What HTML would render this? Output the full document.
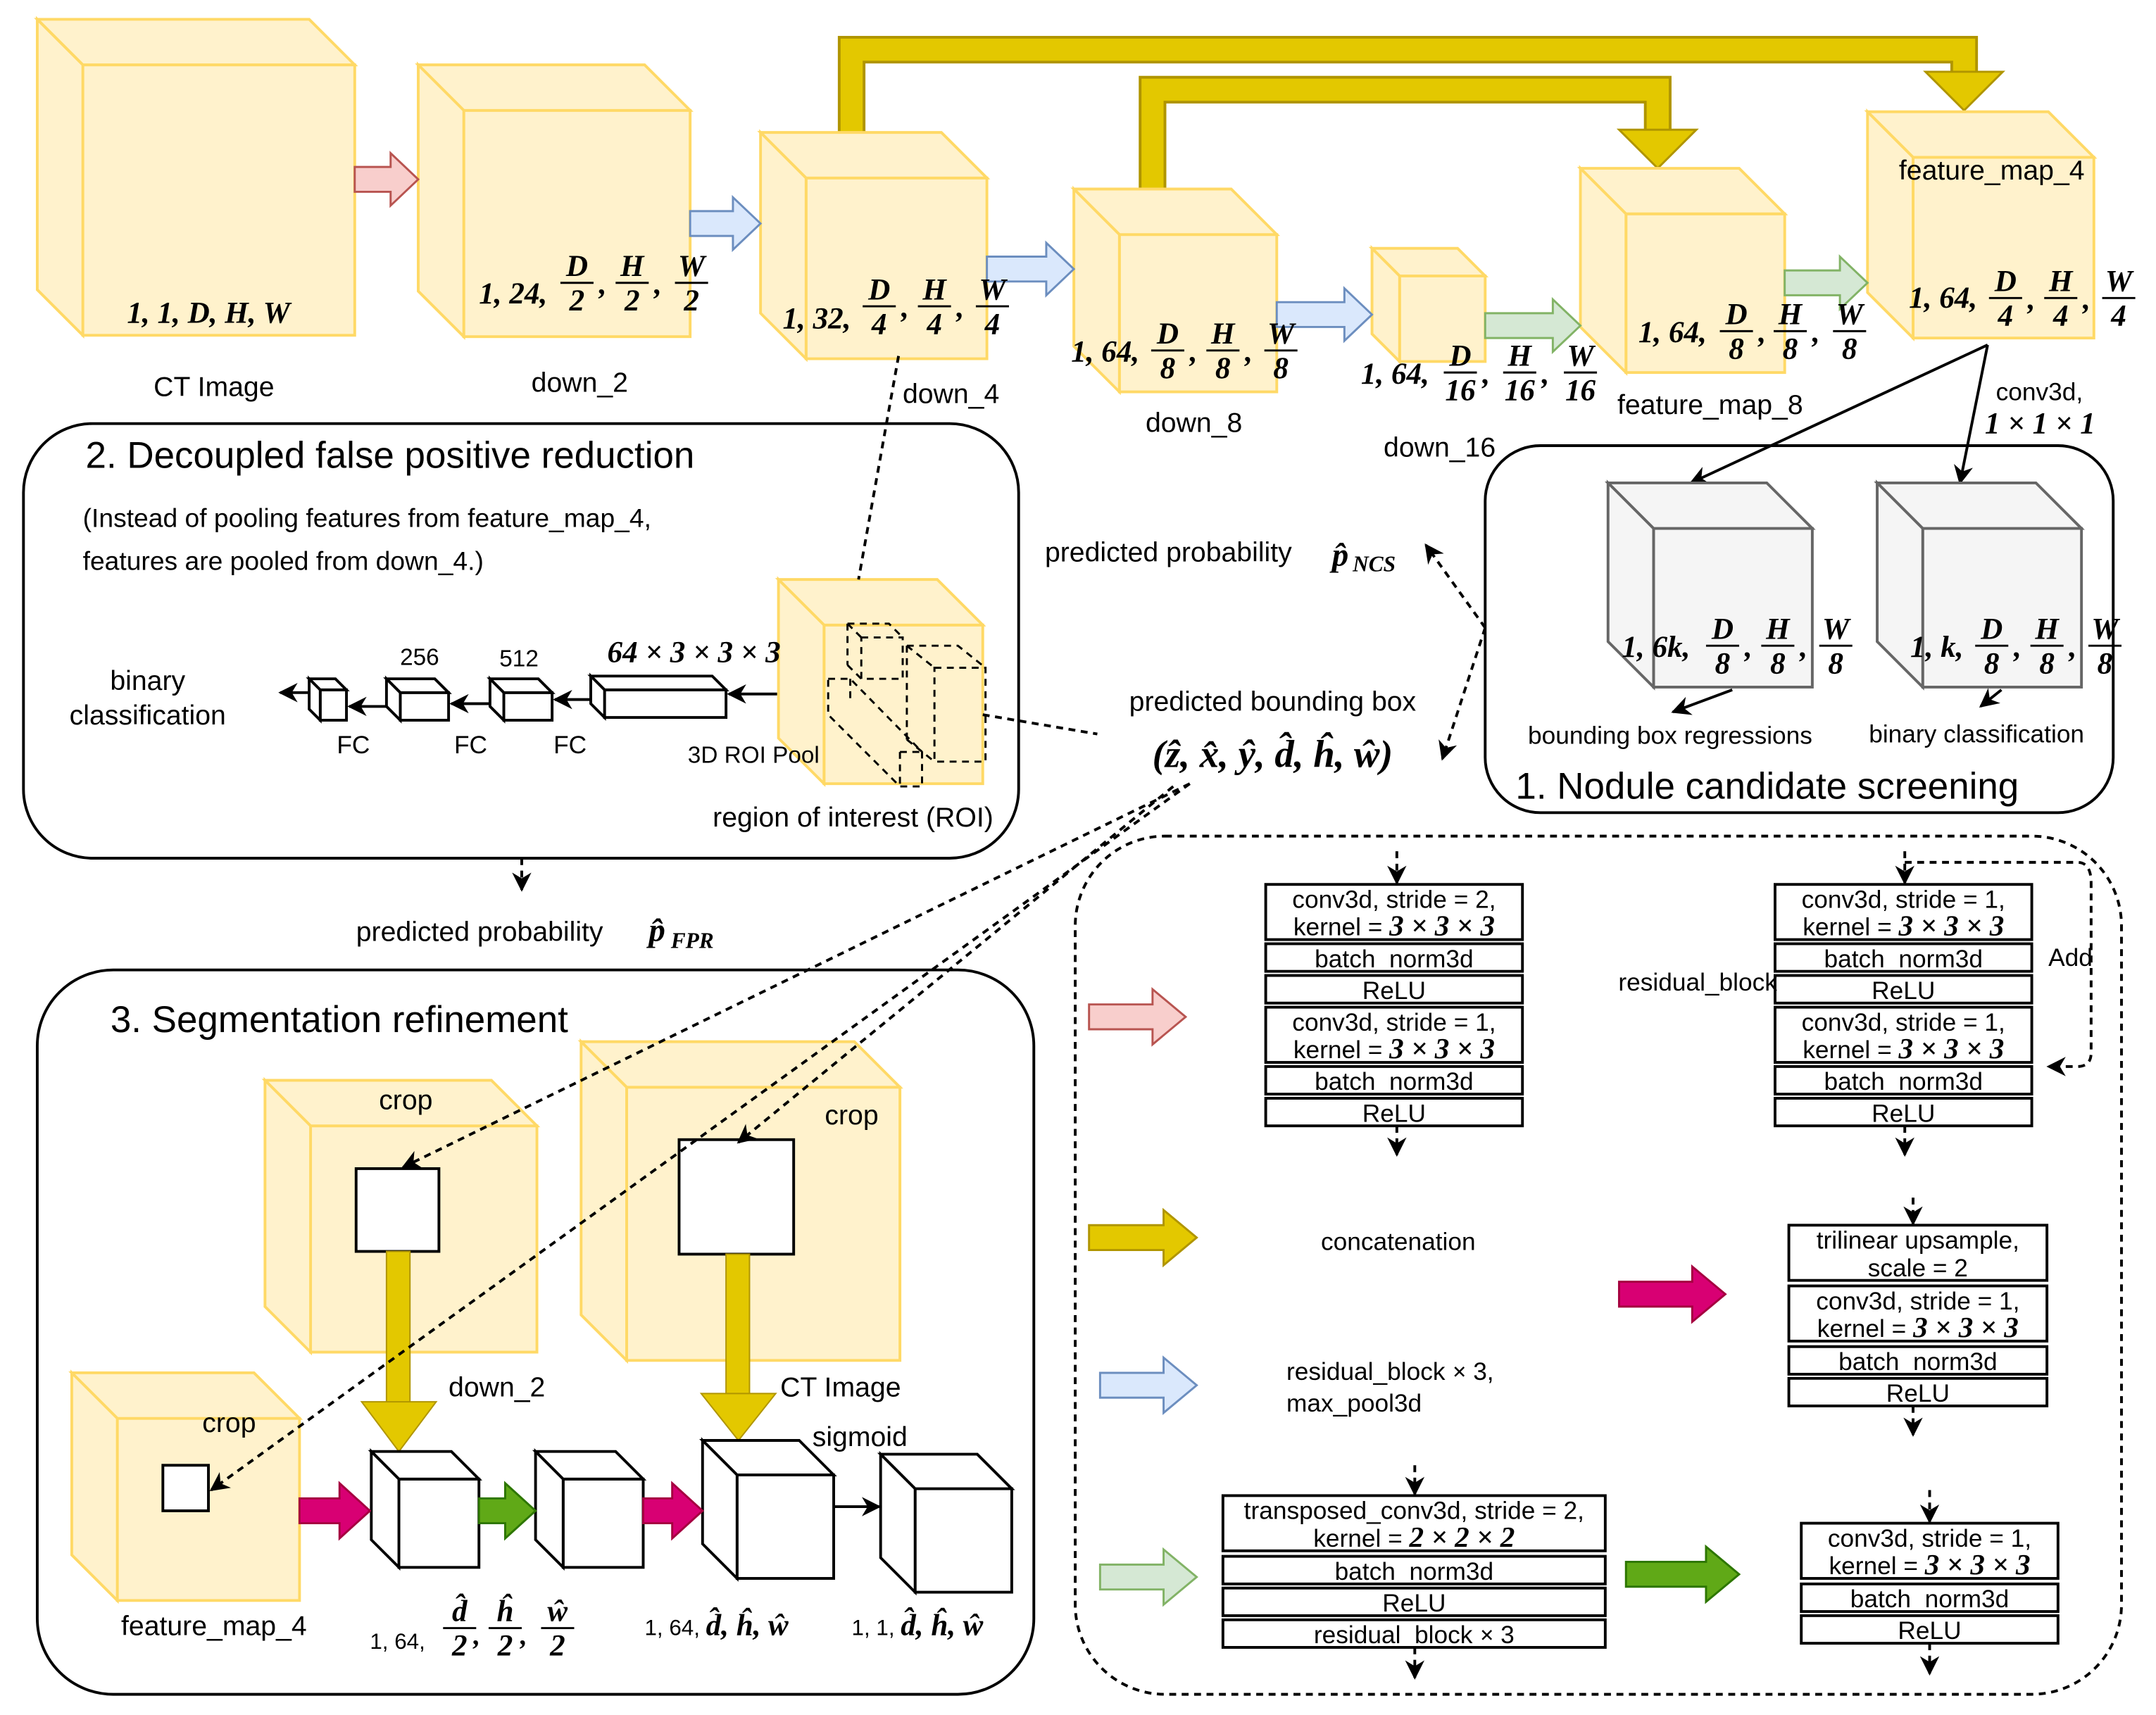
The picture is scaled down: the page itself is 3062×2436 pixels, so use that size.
<!DOCTYPE html>
<html><head><meta charset="utf-8"><style>
html,body{margin:0;padding:0;background:#fff}
svg{display:block}
text{font-family:"Liberation Sans",sans-serif;fill:#000}
.m{font-family:"Liberation Serif",serif;font-weight:bold;font-style:italic}
</style></head><body>
<svg id="s" xmlns="http://www.w3.org/2000/svg" width="3062" height="2436" viewBox="0 0 1562 1243" preserveAspectRatio="none">
<defs>
<marker id="ah" viewBox="0 0 10 10" refX="9" refY="5" markerWidth="7" markerHeight="7" orient="auto"><path d="M0,0 L10,5 L0,10 L3,5 z" fill="#000"/></marker>
</defs>
</svg>
<script>
var o='';
function cube(x,y,w,h,d,f,s,sw){f=f||'#fff2cc';s=s||'#ffd966';sw=sw||2;
o+='<rect x="'+(x+d)+'" y="'+(y+d)+'" width="'+(w-d)+'" height="'+(h-d)+'" fill="'+f+'" stroke="'+s+'" stroke-width="'+sw+'"/>';
o+='<polygon points="'+x+','+y+' '+(x+w-d)+','+y+' '+(x+w)+','+(y+d)+' '+(x+d)+','+(y+d)+'" fill="'+f+'" stroke="'+s+'" stroke-width="'+sw+'"/>';
o+='<polygon points="'+x+','+y+' '+(x+d)+','+(y+d)+' '+(x+d)+','+(y+h)+' '+x+','+(y+h-d)+'" fill="'+f+'" stroke="'+s+'" stroke-width="'+sw+'"/>';}
function arr(x1,x2,cy,sh,hh,hl,f,s){var xa=x2-hl;
o+='<polygon points="'+x1+','+(cy-sh/2)+' '+xa+','+(cy-sh/2)+' '+xa+','+(cy-hh/2)+' '+x2+','+cy+' '+xa+','+(cy+hh/2)+' '+xa+','+(cy+sh/2)+' '+x1+','+(cy+sh/2)+'" fill="'+f+'" stroke="'+s+'" stroke-width="1.5"/>';}
function t(x,y,s,sz,a,c){o+='<text x="'+x+'" y="'+y+'" font-size="'+(sz||20)+'" text-anchor="'+(a||'start')+'"'+(c?' class="'+c+'"':'')+'>'+s+'</text>';}
function fr(cx,cy,n,d,sz){sz=sz||22;t(cx,cy-5,n,sz,'middle','m');o+='<line x1="'+(cx-12)+'" y1="'+cy+'" x2="'+(cx+12)+'" y2="'+cy+'" stroke="#000" stroke-width="1.5"/>';t(cx,cy+sz-2,d,sz,'middle','m');}
function dims(x,y,pre,fx,cy,den,sz){t(x,y,pre,sz||22,'start','m');fr(fx[0],cy,'D',den,sz);t(fx[0]+16,cy+8,',',22,'start','m');fr(fx[1],cy,'H',den,sz);t(fx[1]+16,cy+8,',',22,'start','m');fr(fx[2],cy,'W',den,sz);}
function ln(x1,y1,x2,y2,dash,mk){o+='<line x1="'+x1+'" y1="'+y1+'" x2="'+x2+'" y2="'+y2+'" stroke="#000" stroke-width="2"'+(dash?' stroke-dasharray="5,4"':'')+(mk!==false?' marker-end="url(#ah)"':'')+'/>';}
function rb(x,y,w,h,r,dash){o+='<rect x="'+x+'" y="'+y+'" width="'+w+'" height="'+h+'" rx="'+r+'" fill="none" stroke="#000" stroke-width="2"'+(dash?' stroke-dasharray="5,4"':'')+'/>';}
function bx(x,y,w,h,lines){o+='<rect x="'+x+'" y="'+y+'" width="'+w+'" height="'+h+'" fill="#fff" stroke="#000" stroke-width="2"/>';
if(lines.length==1)t(x+w/2,y+h/2+7,lines[0],18,'middle');else{t(x+w/2,y+h/2-3,lines[0],18,'middle');t(x+w/2,y+h/2+17,lines[1],18,'middle');}}
rb(17,307,721,315,50);rb(1076,323,455,266,40);rb(27,703,722,525,55);rb(779,606,758,622,65,true);
o+='<path d="M617,96 L617,36 L1423,36 L1423,52" fill="none" stroke="#b09500" stroke-width="20"/><path d="M617,96 L617,36 L1423,36 L1423,52" fill="none" stroke="#e3c800" stroke-width="16"/>';
o+='<polygon points="1395,52 1451,52 1423,80" fill="#e3c800" stroke="#b09500" stroke-width="1.5"/>';
o+='<path d="M835,137 L835,65 L1201,65 L1201,94" fill="none" stroke="#b09500" stroke-width="20"/><path d="M835,137 L835,65 L1201,65 L1201,94" fill="none" stroke="#e3c800" stroke-width="16"/>';
o+='<polygon points="1173,94 1229,94 1201,122" fill="#e3c800" stroke="#b09500" stroke-width="1.5"/>';
cube(27,14,230,229,33);cube(303,47,197,197,33);cube(551,96,164,164,33);cube(778,137,147,147,33);cube(994,180,82,82,20);cube(1145,122,148,148,33);cube(1353,81,164,164,33);
var R=['#f8cecc','#b85450'],B=['#dae8fc','#6c8ebf'],G=['#d5e8d4','#82b366'],Y=['#e3c800','#b09500'],M=['#d80073','#a50040'],DG=['#60a917','#2d7600'];
arr(257,303,130,18,38,20,R[0],R[1]);arr(500,551,162,18,38,20,B[0],B[1]);arr(715,778,195,18,38,20,B[0],B[1]);arr(925,994,228,18,38,20,B[0],B[1]);arr(1076,1145,236,18,38,20,G[0],G[1]);arr(1293,1353,205,18,38,20,G[0],G[1]);
t(92,234,'1, 1, D, H, W',22,'start','m');
dims(347,220,'1, 24,',[418,458,501],205,'2');
dims(567,238,'1, 32,',[637,677,719],222,'4');
dims(776,262,'1, 64,',[846,886,928],254,'8');
dims(986,278,'1, 64,',[1058,1101,1145],270,'16');
dims(1187,248,'1, 64,',[1258,1297,1340],240,'8');
dims(1383,223,'1, 64,',[1453,1493,1535],216,'4');
t(155,287,'CT Image',20,'middle');t(420,284,'down_2',20,'middle');t(689,292,'down_4',20,'middle');t(865,313,'down_8',20,'middle');t(1043,331,'down_16',20,'middle');t(1239,300,'feature_map_8',20,'middle');t(1443,130,'feature_map_4',20,'middle');
ln(1440,250,1225,350);ln(1440,250,1420,350);
cube(1165,350,148,148,33,'#f5f5f5','#666');cube(1360,350,148,148,33,'#f5f5f5','#666');
dims(1175,476,'1, 6k,',[1248,1288,1330],468,'8');dims(1384,476,'1, k,',[1443,1483,1525],468,'8');
t(1446,290,'conv3d,',18);t(1438,314,'1 × 1 × 1',22,'start','m');
ln(1255,500,1212,516);ln(1450,500,1435,512);
t(1210,539,'bounding box regressions',18,'middle');t(1432,538,'binary classification',18,'middle');
t(1098,579,'1. Nodule candidate screening',27);
t(62,339,'2. Decoupled false positive reduction',27);
t(60,382,'(Instead of pooling features from feature_map_4,',19);t(60,413,'features are pooled from down_4.)',19);
cube(564,420,148,148,33);
o+='<g fill="none" stroke="#000" stroke-width="1.5" stroke-dasharray="5,4"><rect x="624" y="462" width="30" height="30"/><polyline points="614,452 644,452 654,462"/><line x1="614" y1="452" x2="624" y2="462"/><line x1="614" y1="452" x2="614" y2="482"/><line x1="614" y1="482" x2="624" y2="492"/>';
o+='<rect x="677" y="484" width="37" height="68"/><polyline points="657,468 694,468 714,484"/><line x1="657" y1="468" x2="677" y2="484"/><line x1="657" y1="468" x2="657" y2="536"/><line x1="657" y1="536" x2="677" y2="552"/>';
o+='<polygon points="600,492 616,492 668,545 668,570 652,570 600,518"/><line x1="652" y1="545" x2="668" y2="545"/><line x1="652" y1="545" x2="652" y2="570"/><line x1="616" y1="492" x2="616" y2="510"/></g>';
ln(651,258,622,420,true,false);ln(712,518,795,532,true,false);
cube(428,490,98,30,10,'#fff','#000');cube(355,492,45,30,10,'#fff','#000');cube(280,492,45,30,10,'#fff','#000');cube(224,492,27,30,8,'#fff','#000');
ln(563,503,528,503);ln(428,507,402,507);ln(355,510,327,510);ln(280,512,253,512);ln(224,502,203,502);
t(440,480,'64 × 3 × 3 × 3',22,'start','m');t(376,483,'512',17,'middle');t(304,482,'256',17,'middle');
t(256,546,'FC',18,'middle');t(341,546,'FC',18,'middle');t(413,546,'FC',18,'middle');
t(107,500,'binary',20,'middle');t(107,525,'classification',20,'middle');t(546,553,'3D ROI Pool',17,'middle');t(618,599,'region of interest (ROI)',20,'middle');
t(757,407,'predicted probability ',20);t(965,410,'p̂',24,'start','m');t(980,414,'NCS',16,'start','m');
t(922,515,'predicted bounding box',20,'middle');t(922,556,'(ẑ, x̂, ŷ, d̂, ĥ, ŵ)',28,'middle','m');
ln(1076,455,1033,395,true);ln(1076,455,1045,550,true);ln(378,622,378,645,true);
t(258,682,'predicted probability ',20);t(470,682,'p̂',24,'start','m');t(486,687,'FPR',16,'start','m');
t(80,748,'3. Segmentation refinement',27);
cube(192,783,197,197,33);cube(421,755,231,231,33);cube(52,995,165,165,33);
o+='<rect x="258" y="847" width="60" height="60" fill="#fff" stroke="#000" stroke-width="2"/><rect x="492" y="826" width="83" height="83" fill="#fff" stroke="#000" stroke-width="2"/><rect x="118" y="1062" width="33" height="33" fill="#fff" stroke="#000" stroke-width="2"/>';
t(294,804,'crop',20,'middle');t(617,815,'crop',20,'middle');t(166,1038,'crop',20,'middle');
t(360,1012,'down_2',20,'middle');t(609,1012,'CT Image',20,'middle');t(623,1048,'sigmoid',20,'middle');t(155,1185,'feature_map_4',20,'middle');
o+='<rect x="280" y="907" width="17" height="110" fill="#e3c800" stroke="#b09500"/><polygon points="262,1016 316,1016 289,1052" fill="#e3c800" stroke="#b09500"/>';
o+='<rect x="526" y="909" width="17" height="102" fill="#e3c800" stroke="#b09500"/><polygon points="508,1010 562,1010 535,1044" fill="#e3c800" stroke="#b09500"/>';
cube(269,1052,78,84,20,'#fff','#000');cube(388,1052,78,84,20,'#fff','#000');cube(509,1044,95,100,25,'#fff','#000');cube(638,1054,95,100,25,'#fff','#000');
arr(217,268,1095,18,40,22,M[0],M[1]);arr(347,388,1095,18,40,22,DG[0],DG[1]);arr(466,509,1095,18,40,22,M[0],M[1]);
ln(604,1092,637,1092);
ln(862,568,292,846,true);ln(862,568,153,1080,true);ln(850,570,535,828,true);
t(268,1195,'1, 64,',16);fr(333,1180,'d̂','2');t(343,1192,',',20,'start','m');fr(366,1180,'ĥ','2');t(377,1192,',',20,'start','m');fr(404,1180,'ŵ','2');
t(467,1185,'1, 64, <tspan class="m" font-size="22">d̂, ĥ, ŵ</tspan>',16);t(617,1185,'1, 1, <tspan class="m" font-size="22">d̂, ĥ, ŵ</tspan>',16);
arr(789,859,737,18,40,24,R[0],R[1]);arr(789,867,897,18,40,24,Y[0],Y[1]);arr(797,867,1004,18,40,24,B[0],B[1]);arr(797,867,1143,18,40,24,G[0],G[1]);arr(1173,1250,938,18,40,24,M[0],M[1]);arr(1178,1260,1141,18,40,24,DG[0],DG[1]);
function blk(x,w){bx(x,641,w,40,['conv3d, stride = '+(x<1000?'2':'1')+',','kernel = <tspan class="m" font-size="21">3 × 3 × 3</tspan>']);bx(x,684,w,20,['batch_norm3d']);bx(x,707,w,20,['ReLU']);bx(x,730,w,40,['conv3d, stride = 1,','kernel = <tspan class="m" font-size="21">3 × 3 × 3</tspan>']);bx(x,773,w,20,['batch_norm3d']);bx(x,796,w,20,['ReLU']);}
blk(917,186);blk(1286,186);
bx(1296,888,187,40,['trilinear upsample,','scale = 2']);bx(1296,932,187,40,['conv3d, stride = 1,','kernel = <tspan class="m" font-size="21">3 × 3 × 3</tspan>']);bx(1296,976,187,20,['batch_norm3d']);bx(1296,999,187,20,['ReLU']);
bx(886,1084,277,40,['transposed_conv3d, stride = 2,','kernel = <tspan class="m" font-size="21">2 × 2 × 2</tspan>']);bx(886,1128,277,20,['batch_norm3d']);bx(886,1151,277,20,['ReLU']);bx(886,1174,277,20,['residual_block <tspan class="m">×</tspan> 3']);
bx(1305,1104,186,40,['conv3d, stride = 1,','kernel = <tspan class="m" font-size="21">3 × 3 × 3</tspan>']);bx(1305,1148,186,20,['batch_norm3d']);bx(1305,1171,186,20,['ReLU']);
ln(1012,617,1012,640,true);ln(1012,816,1012,837,true);ln(1380,617,1380,640,true);ln(1380,816,1380,837,true);ln(1386,868,1386,887,true);ln(1386,1019,1386,1040,true);ln(1025,1062,1025,1083,true);ln(1025,1194,1025,1216,true);ln(1398,1080,1398,1103,true);ln(1398,1191,1398,1213,true);
o+='<path d="M1380,625 L1505,625 Q1515,625 1515,640 L1515,763 Q1515,773 1505,773 L1484,773" fill="none" stroke="#000" stroke-width="2" stroke-dasharray="5,4" marker-end="url(#ah)"/>';
t(1500,700,'Add',18,'middle');t(1230,718,'residual_block',18,'middle');t(1013,906,'concatenation',18,'middle');
t(932,1000,'residual_block <tspan class="m">×</tspan> 3,',18);t(932,1023,'max_pool3d',18);
document.getElementById('s').insertAdjacentHTML('beforeend',o);
</script>
</body></html>
